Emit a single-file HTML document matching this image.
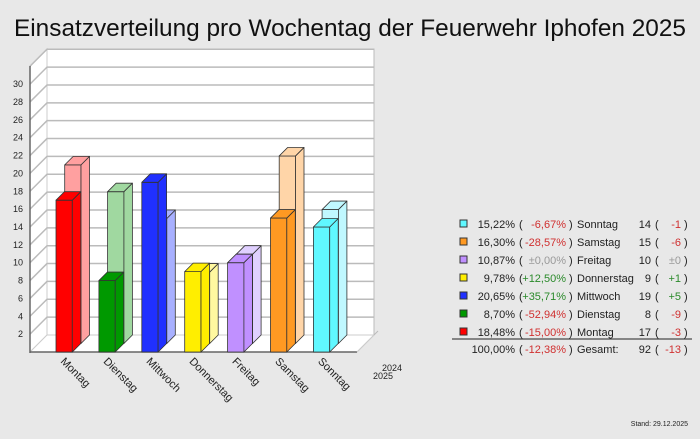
<!DOCTYPE html>
<html><head><meta charset="utf-8"><style>
body{margin:0;background:#e8e8e8;width:700px;height:439px;overflow:hidden;font-family:"Liberation Sans",sans-serif}
svg{position:absolute;left:0;top:0}
</style></head><body>
<svg id="s" width="700" height="439" xmlns="http://www.w3.org/2000/svg" font-family="Liberation Sans, sans-serif">
<rect width="700" height="439" fill="#e8e8e8"/>
<text x="14" y="36" font-size="24" textLength="672" lengthAdjust="spacingAndGlyphs" fill="#111">Einsatzverteilung pro Wochentag der Feuerwehr Iphofen 2025</text>
<polygon points="47,49 374,49 374,335 47,335" fill="#fff" stroke="#bbb"/>
<polygon points="30,66 47,49 47,335 30,352" fill="#fff" stroke="#ccc"/>
<polygon points="30,352 357,352 374,335 47,335" fill="#fff" stroke="#ccc"/>
<g id="grid" stroke="#bbb" stroke-width="1.5" fill="none"></g>
<line x1="30" y1="66" x2="30" y2="353" stroke="#666" stroke-width="1.5"/>
<line x1="30" y1="352" x2="357" y2="352" stroke="#666" stroke-width="1.5"/>
<line x1="357" y1="352" x2="374" y2="335" stroke="#ccc"/>
<line x1="374" y1="335" x2="378" y2="331" stroke="#bbb"/>
<g id="lab" font-size="9" fill="#222" text-anchor="end"></g>
<g id="bars" stroke="#333" stroke-width="0.8" stroke-linejoin="round"></g>
<g id="cat" font-size="11" fill="#222"></g>
<text x="382" y="371" font-size="9" fill="#222">2024</text>
<text x="373" y="379" font-size="9" fill="#222">2025</text>
<g font-size="11" fill="#222" id="leg"></g>
<line x1="452" y1="339" x2="692" y2="339" stroke="#222"/>
<text x="688" y="426" font-size="7" text-anchor="end" fill="#222">Stand: 29.12.2025</text>
</svg>
<script>
var NS="http://www.w3.org/2000/svg";
function el(p,t,a,txt){var e=document.createElementNS(NS,t);for(var k in a)e.setAttribute(k,a[k]);if(txt!=null)e.textContent=txt;document.getElementById(p).appendChild(e);return e;}
var u=8.93;
for(var v=2;v<=32;v+=2){var yb=335-v*u,yf=352-v*u;
el("grid","polyline",{points:"30,"+yf+" 47,"+yb+" 374,"+yb});
if(v<=30)el("lab","text",{x:23,y:yf+3},v);}
var d=[["Montag",17,20,"#ff0000","#ffa0a0"],["Dienstag",8,17,"#009900","#a0d8a0"],["Mittwoch",19,14,"#2030ff","#a8b0ff"],["Donnerstag",9,8,"#ffee00","#fff8a0"],["Freitag",10,10,"#c090ff","#e0d0ff"],["Samstag",15,21,"#ff9922","#ffd5a8"],["Sonntag",14,15,"#60f8ff","#c0f8ff"]];
function bar(x,base,v,c){var w=16.3,dp=8.5,t=base-v*u;
el("bars","rect",{x:x,y:t,width:w,height:base-t,fill:c});
el("bars","polygon",{points:(x+w)+","+t+" "+(x+w+dp)+","+(t-dp)+" "+(x+w+dp)+","+(base-dp)+" "+(x+w)+","+base,fill:c});
el("bars","polygon",{points:x+","+t+" "+(x+dp)+","+(t-dp)+" "+(x+w+dp)+","+(t-dp)+" "+(x+w)+","+t,fill:c});}
d.forEach(function(r,i){var x=56+i*42.9;bar(x+8.7,343.5,r[2],r[4]);});
d.forEach(function(r,i){var x=56+i*42.9;bar(x,352,r[1],r[3]);
var tx=x+4,ty=362;el("cat","text",{x:tx,y:ty,transform:"rotate(45 "+tx+" "+ty+")"},r[0]);});
var L=[["#60f8ff","15,22%","-6,67%","Sonntag","14","-1"],["#ff9922","16,30%","-28,57%","Samstag","15","-6"],["#c090ff","10,87%","±0,00%","Freitag","10","±0"],["#ffee00","9,78%","+12,50%","Donnerstag","9","+1"],["#2030ff","20,65%","+35,71%","Mittwoch","19","+5"],["#009900","8,70%","-52,94%","Dienstag","8","-9"],["#ff0000","18,48%","-15,00%","Montag","17","-3"]];
function col(s){return s[0]=="-"?"#d03030":s[0]=="+"?"#2a8a2a":"#999";}
L.forEach(function(r,i){var y=228+i*18;
el("leg","rect",{x:460,y:y-8,width:7,height:7,fill:r[0],stroke:"#333"});
el("leg","text",{x:515,y:y,"text-anchor":"end"},r[1]);
el("leg","text",{x:519,y:y},"(");
el("leg","text",{x:566,y:y,"text-anchor":"end",fill:col(r[2])},r[2]);
el("leg","text",{x:569,y:y},")");
el("leg","text",{x:577,y:y},r[3]);
el("leg","text",{x:651,y:y,"text-anchor":"end"},r[4]);
el("leg","text",{x:655,y:y},"(");
el("leg","text",{x:681,y:y,"text-anchor":"end",fill:col(r[5])},r[5]);
el("leg","text",{x:684,y:y},")");});
var y=353;
el("leg","text",{x:515,y:y,"text-anchor":"end"},"100,00%");
el("leg","text",{x:519,y:y},"(");
el("leg","text",{x:566,y:y,"text-anchor":"end",fill:"#d03030"},"-12,38%");
el("leg","text",{x:569,y:y},")");
el("leg","text",{x:577,y:y},"Gesamt:");
el("leg","text",{x:651,y:y,"text-anchor":"end"},"92");
el("leg","text",{x:655,y:y},"(");
el("leg","text",{x:681,y:y,"text-anchor":"end",fill:"#d03030"},"-13");
el("leg","text",{x:684,y:y},")");
</script>
</body></html>
